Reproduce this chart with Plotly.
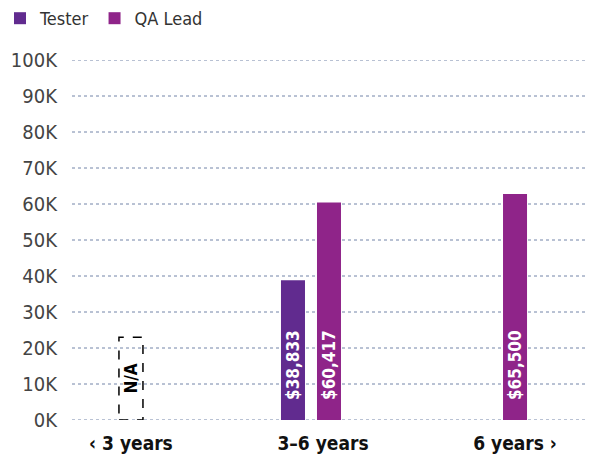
import plotly.graph_objects as go

categories = ["‹ 3 years", "3–6 years", "6 years ›"]
tester_values = [None, 38833, None]
tester_labels = ["", "$38,833", ""]
qa_values = [None, 60417, 62800]
qa_labels = ["", "$60,417", "$65,500"]
na_category = "‹ 3 years"
na_text = "N/A"
na_placeholder = 23000
y_ticks = [0, 10000, 20000, 30000, 40000, 50000, 60000, 70000, 80000, 90000, 100000]
y_tick_text = ["0K", "10K", "20K", "30K", "40K", "50K", "60K", "70K", "80K", "90K", "100K"]

TESTER = "#612b8f"
QA = "#8f2489"
GRID = "#7384a8"
BW = 0.125
FONT = "DejaVu Sans Condensed, DejaVu Sans, sans-serif"
tester_offset = -0.21875
qa_offsets = [-0.0625, -0.03125, -0.0625]

fig = go.Figure()
fig.add_trace(go.Bar(
    name="Tester", x=categories, y=tester_values,
    marker=dict(color=TESTER, line=dict(width=0)),
    width=BW, offset=tester_offset,
))
fig.add_trace(go.Bar(
    name="QA Lead", x=categories, y=qa_values,
    marker=dict(color=QA, line=dict(width=0)),
    width=BW, offset=qa_offsets,
))

# dotted gridlines (drawn below the bars)
for v in y_ticks:
    fig.add_shape(type="line", xref="paper", x0=0, x1=1, yref="y", y0=v, y1=v,
                  line=dict(color=GRID, width=1, dash="dot"), layer="below")

label_font = dict(family=FONT, size=17, color="white", weight="bold")
idx = {c: i for i, c in enumerate(categories)}
for c, v, t in zip(categories, tester_values, tester_labels):
    if v is not None:
        fig.add_annotation(x=idx[c] + tester_offset + BW / 2, y=0, text=t, textangle=-90,
                           showarrow=False, yanchor="bottom", yshift=18, font=label_font)
for i, (c, v, t) in enumerate(zip(categories, qa_values, qa_labels)):
    if v is not None:
        fig.add_annotation(x=idx[c] + qa_offsets[i] + BW / 2, y=0, text=t, textangle=-90,
                           showarrow=False, yanchor="bottom", yshift=18, font=label_font)

# N/A placeholder
ni = idx[na_category]
fig.add_shape(type="rect", x0=ni - 0.0625, x1=ni + 0.0625, y0=0, y1=na_placeholder,
              xref="x", yref="y", line=dict(color="black", width=1.5, dash="dash"),
              fillcolor="rgba(0,0,0,0)")
fig.add_annotation(x=ni, y=na_placeholder / 2, text=na_text, textangle=-90, showarrow=False,
                   font=dict(family=FONT, size=17, color="black", weight="bold"))

fig.update_layout(
    width=595, height=455,
    margin=dict(l=72, r=7, t=60, b=35),
    plot_bgcolor="white", paper_bgcolor="white",
    barmode="overlay",
    showlegend=True,
    legend=dict(orientation="h", x=0, y=1, xref="container", yref="container",
                xanchor="left", yanchor="top",
                font=dict(family=FONT, size=18, color="#333"),
                itemwidth=30, traceorder="normal", bgcolor="rgba(0,0,0,0)"),
    xaxis=dict(type="category", range=[-0.307, 2.380], showgrid=False, showline=False,
               ticks="", ticklabelstandoff=10, automargin=False,
               tickfont=dict(family=FONT, size=19, color="#111", weight="bold")),
    yaxis=dict(range=[0, 100000], tickvals=y_ticks, ticktext=y_tick_text,
               showgrid=False, zeroline=False, showline=False, ticks="",
               ticklabelstandoff=14, automargin=False,
               tickfont=dict(family=FONT, size=20, color="#444")),
)

fig.write_html("out.html", config={"displayModeBar": False},
               post_script="document.body.style.margin='0';")
